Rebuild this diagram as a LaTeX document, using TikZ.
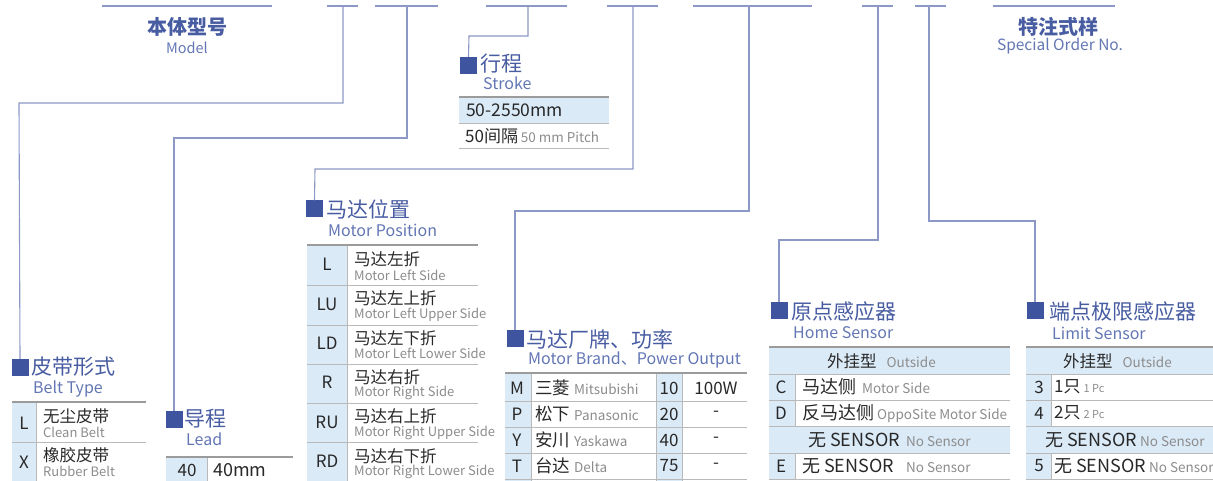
\documentclass[tikz,border=0pt]{standalone}
\usepackage{fontspec}
\setmainfont{Noto Sans CJK SC}
\definecolor{lnc}{RGB}{140,152,198}
\definecolor{sqc}{RGB}{62,84,158}
\definecolor{hcn}{RGB}{72,92,162}
\definecolor{hen}{RGB}{98,118,180}
\definecolor{shade}{RGB}{219,234,247}
\definecolor{tline}{RGB}{155,155,155}
\definecolor{rline}{RGB}{185,185,185}
\definecolor{tx}{RGB}{40,40,40}
\definecolor{tg}{RGB}{140,140,140}
\begin{document}
\begin{tikzpicture}[x=1pt,y=-1pt,
  conn/.style={draw=lnc,line width=1.1pt},
  sq/.style={fill=sqc,minimum width=17pt,minimum height=17pt,inner sep=0pt,draw=none},
  hc/.style={anchor=west,inner sep=0pt,text=hcn,font=\fontsize{21}{21}\selectfont},
  he/.style={anchor=west,inner sep=0pt,text=hen,font=\fontsize{16}{16}\selectfont},
  cd/.style={inner sep=0pt,text=tx,font=\fontsize{17}{17}\selectfont},
  tc/.style={anchor=west,inner sep=0pt,text=tx,font=\fontsize{16.5}{16.5}\selectfont},
  te/.style={anchor=west,inner sep=0pt,text=tg,font=\fontsize{13}{13}\selectfont},
  topl/.style={draw=tline,line width=1.3pt},
  rowl/.style={draw=rline,line width=0.9pt},
  shd/.style={fill=shade,draw=none}]
\useasboundingbox (0,0) rectangle (1213,481);

% ---------------- top code slots ----------------
\coordinate (s1a) at (102,6);  \coordinate (s1b) at (272,6);
\coordinate (s2a) at (327,6);  \coordinate (s2b) at (358,6);
\coordinate (s3a) at (375,6);  \coordinate (s3b) at (438,6);
\coordinate (s4a) at (486,6);  \coordinate (s4b) at (567,6);
\coordinate (s5a) at (607,6);  \coordinate (s5b) at (658,6);
\coordinate (s6a) at (693,6);  \coordinate (s6b) at (812,6);
\coordinate (s7a) at (862,6);  \coordinate (s7b) at (893,6);
\coordinate (s8a) at (915,6);  \coordinate (s8b) at (946,6);
\coordinate (s9a) at (993,6);  \coordinate (s9b) at (1115,6);
\foreach \k in {1,...,9}{\draw[conn] (s\k a) -- (s\k b);}

\node[inner sep=0pt,text=hcn,font=\fontsize{20}{20}\selectfont\bfseries] (model) at (187,27) {本体型号};
\node[inner sep=0pt,text=hen,font=\fontsize{14.5}{14.5}\selectfont] (modelE) at (187,48) {Model};
\node[inner sep=0pt,text=hcn,font=\fontsize{20}{20}\selectfont\bfseries] (spec) at (1058,27) {特注式样};
\node[inner sep=0pt,text=hen,font=\fontsize{15.5}{15.5}\selectfont] (specE) at (1060,46) {Special Order No.};

% ---------------- squares and headings ----------------
\node[sq] (sqBelt) at (20,367.5) {};
\node[hc] (hBelt) at (31,367) {皮带形式};
\node[he] (eBelt) at (33,389) {Belt Type};

\node[sq] (sqLead) at (174,419.5) {};
\node[hc] (hLead) at (184,419) {导程};
\node[he] (eLead) at (186,439) {Lead};

\node[sq] (sqStroke) at (468.5,65.5) {};
\node[hc] (hStroke) at (480,64) {行程};
\node[he] (eStroke) at (483,83) {Stroke};

\node[sq] (sqPos) at (314.5,209) {};
\node[hc] (hPos) at (326,209) {马达位置};
\node[he] (ePos) at (328,230) {Motor Position};

\node[sq] (sqBrand) at (515,338.5) {};
\node[hc] (hBrand) at (526,339) {马达厂牌、功率};
\node[he] (eBrand) at (528,360) {Motor Brand、Power Output};

\node[sq] (sqHome) at (779,310.5) {};
\node[hc] (hHome) at (791,312) {原点感应器};
\node[he] (eHome) at (793,333) {Home Sensor};

\node[sq] (sqLim) at (1035,310.5) {};
\node[hc] (hLim) at (1049,312) {端点极限感应器};
\node[he] (eLim) at (1052,333) {Limit Sensor};

% ---------------- connectors ----------------
\coordinate (c2) at (343,6);  \coordinate (b2) at (19,103);
\coordinate (c3) at (407,6);  \coordinate (b3) at (174,138);
\coordinate (c4) at (528,6);  \coordinate (b4) at (469,36);
\coordinate (c5) at (633,6);  \coordinate (b5) at (315,169);
\coordinate (c6) at (749,6);  \coordinate (b6) at (515,211);
\coordinate (c7) at (878,6);  \coordinate (b7) at (779,240);
\coordinate (c8) at (929,6);  \coordinate (b8) at (1035,221);
\draw[conn] (c2) |- (b2) -- (sqBelt.north);
\draw[conn] (c3) |- (b3) -- (sqLead.north);
\draw[conn] (c4) |- (b4) -- (sqStroke.north);
\draw[conn] (c5) |- (b5) -- (sqPos.north);
\draw[conn] (c6) |- (b6) -- (sqBrand.north);
\draw[conn] (c7) |- (b7) -- (sqHome.north);
\draw[conn] (c8) |- (b8) -- (sqLim.north);

% ---------------- stroke table ----------------
\fill[shd] (459,97) rectangle (609,123);
\draw[rowl] (459,123) -- (609,123);
\draw[rowl] (459,148) -- (609,148);
\draw[topl] (459,97) -- (609,97);
\node[anchor=west,inner sep=0pt,text=tx,font=\fontsize{17.5}{17.5}\selectfont] (st1) at (466,110.5) {50-2550mm};
\node[anchor=west,inner sep=0pt,text=tx,font=\fontsize{17}{17}\selectfont] (st2) at (465,136) {50间隔\,{\color{tg}\fontsize{13.5}{13.5}\selectfont 50 mm Pitch}};

% ---------------- belt table ----------------
\fill[shd] (12,402) rectangle (36,481);
\draw[rowl] (36,402) -- (36,481);
\draw[rowl] (12,442) -- (146,442);
\draw[topl] (12,402) -- (146,402);
\node[cd] (bL) at (24,423) {L};
\node[tc] (bL1) at (43,416.5) {无尘皮带};
\node[te] (bL2) at (43,432) {Clean Belt};
\node[cd] (bX) at (24,462) {X};
\node[tc] (bX1) at (43,455.5) {橡胶皮带};
\node[te] (bX2) at (43,471) {Rubber Belt};

% ---------------- lead table ----------------
\fill[shd] (166,457) rectangle (207,481);
\draw[rowl] (207,457) -- (207,481);
\draw[topl] (166,457) -- (293,457);
\node[cd] (l40) at (187,470.5) {40};
\node[anchor=west,inner sep=0pt,text=tx,font=\fontsize{18}{18}\selectfont] (l40mm) at (213,470.5) {40mm};

% ---------------- motor position table ----------------
\fill[shd] (307,245) rectangle (347,481);
\draw[rowl] (347,245) -- (347,481);
\foreach \yy in {285,325,364,403,442}{\draw[rowl] (307,\yy) -- (478,\yy);}
\draw[topl] (307,245) -- (478,245);
\foreach \c/\z/\e [count=\i from 0] in {L/马达左折/Motor Left Side,LU/马达左上折/Motor Left Upper Side,LD/马达左下折/Motor Left Lower Side,R/马达右折/Motor Right Side,RU/马达右上折/Motor Right Upper Side,RD/马达右下折/Motor Right Lower Side}{
  \pgfmathsetmacro\yt{245+39.4*\i}
  \node[cd] (mpc\i) at (327,{\yt+19.5}) {\c};
  \node[tc] (mpz\i) at (354,{\yt+14}) {\z};
  \node[te] (mpe\i) at (354,{\yt+30}) {\e};
}

% ---------------- motor brand table ----------------
\fill[shd] (505,373) rectangle (531,481);
\fill[shd] (656,373) rectangle (682,481);
\foreach \xx in {531,656,682}{\draw[rowl] (\xx,373) -- (\xx,481);}
\foreach \yy in {401,427,453,479}{\draw[rowl] (505,\yy) -- (747,\yy);}
\draw[topl] (505,373) -- (747,373);
\foreach \c/\z/\e/\n/\p [count=\i from 0] in {M/三菱/Mitsubishi/10/100W,P/松下/Panasonic/20/-,Y/安川/Yaskawa/40/-,T/台达/Delta/75/-}{
  \pgfmathsetmacro\yc{ifthenelse(\i==0,388,414+26*(\i-1))}
  \node[cd] (brc\i) at (517,\yc) {\c};
  \node[anchor=west,inner sep=0pt,text=tx,font=\fontsize{17.5}{17.5}\selectfont] (brz\i) at (535,\yc) {\z\hspace{4pt}{\color{tg}\fontsize{13.5}{13.5}\selectfont \e}};
  \node[cd] (brn\i) at (669,\yc) {\n};
  \node[cd] (brp\i) at (716,\yc) {\p};
}

% ---------------- home sensor table ----------------
\fill[shd] (769,347) rectangle (1010,374);
\fill[shd] (769,426) rectangle (1010,453);
\fill[shd] (769,374) rectangle (795,426);
\fill[shd] (769,453) rectangle (795,479);
\draw[rowl] (795,374) -- (795,426);
\draw[rowl] (795,453) -- (795,479);
\foreach \yy in {374,400,426,453,479}{\draw[rowl] (769,\yy) -- (1010,\yy);}
\draw[topl] (769,347) -- (1010,347);
\node[anchor=west,inner sep=0pt,text=tx,font=\fontsize{16.5}{16.5}\selectfont] (hO) at (827,361) {外挂型\hspace{10pt}{\color{tg}\fontsize{13.5}{13.5}\selectfont Outside}};
\node[cd] (hC) at (781,387) {C};
\node[anchor=west,inner sep=0pt,text=tx,font=\fontsize{18}{18}\selectfont] (hC1) at (802,387) {马达侧\hspace{6pt}{\color{tg}\fontsize{13.5}{13.5}\selectfont Motor Side}};
\node[cd] (hD) at (781,413) {D};
\node[anchor=west,inner sep=0pt,text=tx,font=\fontsize{18}{18}\selectfont] (hD1) at (802,413) {反马达侧\hspace{3pt}{\color{tg}\fontsize{13.5}{13.5}\selectfont OppoSite Motor Side}};
\node[anchor=west,inner sep=0pt,text=tx,font=\fontsize{18}{18}\selectfont] (hN) at (808,440) {无 SENSOR\hspace{6pt}{\color{tg}\fontsize{13.5}{13.5}\selectfont No Sensor}};
\node[cd] (hE) at (781,466) {E};
\node[anchor=west,inner sep=0pt,text=tx,font=\fontsize{18}{18}\selectfont] (hE1) at (802,466) {无 SENSOR\hspace{12pt}{\color{tg}\fontsize{13.5}{13.5}\selectfont No Sensor}};

% ---------------- limit sensor table ----------------
\fill[shd] (1026,347) rectangle (1213,374);
\fill[shd] (1026,426) rectangle (1213,453);
\fill[shd] (1026,374) rectangle (1051,426);
\fill[shd] (1026,453) rectangle (1051,479);
\draw[rowl] (1051,374) -- (1051,426);
\draw[rowl] (1051,453) -- (1051,479);
\foreach \yy in {374,400,426,453,479}{\draw[rowl] (1026,\yy) -- (1213,\yy);}
\draw[topl] (1026,347) -- (1213,347);
\node[anchor=west,inner sep=0pt,text=tx,font=\fontsize{16.5}{16.5}\selectfont] (lO) at (1063,361) {外挂型\hspace{10pt}{\color{tg}\fontsize{13.5}{13.5}\selectfont Outside}};
\node[cd] (l3) at (1039,387) {3};
\node[anchor=west,inner sep=0pt,text=tx,font=\fontsize{17}{17}\selectfont] (l31) at (1054,387) {1只\hspace{3pt}{\color{tg}\fontsize{11}{11}\selectfont 1 Pc}};
\node[cd] (l4) at (1039,413) {4};
\node[anchor=west,inner sep=0pt,text=tx,font=\fontsize{17}{17}\selectfont] (l41) at (1054,413) {2只\hspace{3pt}{\color{tg}\fontsize{11}{11}\selectfont 2 Pc}};
\node[anchor=west,inner sep=0pt,text=tx,font=\fontsize{18}{18}\selectfont] (lN) at (1045,440) {无 SENSOR\hspace{3pt}{\color{tg}\fontsize{13.5}{13.5}\selectfont No Sensor}};
\node[cd] (l5) at (1039,466) {5};
\node[anchor=west,inner sep=0pt,text=tx,font=\fontsize{18}{18}\selectfont] (l51) at (1054,466) {无 SENSOR\hspace{3pt}{\color{tg}\fontsize{13.5}{13.5}\selectfont No Sensor}};
\end{tikzpicture}
\end{document}
